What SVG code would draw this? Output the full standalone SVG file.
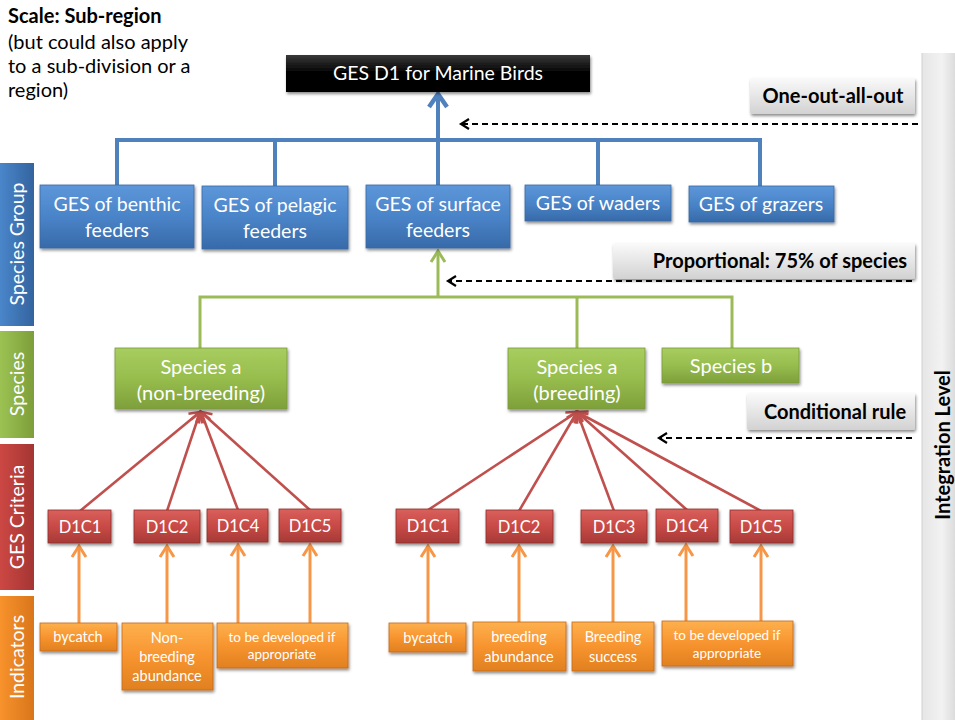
<svg xmlns="http://www.w3.org/2000/svg" width="955" height="720" viewBox="0 0 955 720">
  <defs>
    <style>
      .t { font-family: Lato, "Open Sans", "Liberation Sans", sans-serif; fill: #ffffff; text-anchor: middle; }
      .big { font-size: 19.5px; }
      .grn { font-size: 20px; }
      .mid { font-size: 16.5px; }
      .sm { font-size: 14.5px; }
      .lab { font-family: Lato, "Open Sans", "Liberation Sans", sans-serif; font-size: 20px; font-weight: bold; fill: #000000; text-anchor: middle; }
      .note { font-family: Lato, "Open Sans", "Liberation Sans", sans-serif; font-size: 20px; fill: #000000; }
      .side { font-family: Lato, "Open Sans", "Liberation Sans", sans-serif; font-size: 19.5px; fill: #ffffff; text-anchor: middle; }
      .blue { fill: url(#gBlue); stroke: #3a6aa4; stroke-width: 0.8; filter: url(#sh); }
      .green { fill: url(#gGreen); stroke: #7a9a3c; stroke-width: 0.8; filter: url(#sh); }
      .red { fill: url(#gRed); stroke: #8e2f2c; stroke-width: 0.8; filter: url(#sh); }
      .orange { fill: url(#gOrange); stroke: #c56a1c; stroke-width: 0.8; filter: url(#sh); }
      .grey { fill: url(#gGrey); filter: url(#sh); }
      .cb { stroke: #4f81bd; stroke-width: 4; fill: none; }
      .cg { stroke: #9bbb59; stroke-width: 3; fill: none; }
      .cr { stroke: #c0504d; stroke-width: 2.6; fill: none; }
      .co { stroke: #f79646; stroke-width: 3; fill: none; }
      .cd { stroke: #000000; stroke-width: 2; stroke-dasharray: 6 4; fill: none; }
    </style>
    <filter id="sh" x="-10%" y="-20%" width="120%" height="150%">
      <feDropShadow dx="1" dy="2" stdDeviation="1.5" flood-color="#000000" flood-opacity="0.45"/>
    </filter>
    <linearGradient id="gBlue" x1="0" y1="0" x2="0" y2="1">
      <stop offset="0" stop-color="#5d97da"/>
      <stop offset="0.5" stop-color="#4a84c8"/>
      <stop offset="1" stop-color="#376aa9"/>
    </linearGradient>
    <linearGradient id="gGreen" x1="0" y1="0" x2="0" y2="1">
      <stop offset="0" stop-color="#a8cd5f"/>
      <stop offset="0.5" stop-color="#97bd4e"/>
      <stop offset="1" stop-color="#7e9f3a"/>
    </linearGradient>
    <linearGradient id="gRed" x1="0" y1="0" x2="0" y2="1">
      <stop offset="0" stop-color="#d9605c"/>
      <stop offset="0.5" stop-color="#c84a46"/>
      <stop offset="1" stop-color="#a63a37"/>
    </linearGradient>
    <linearGradient id="gOrange" x1="0" y1="0" x2="0" y2="1">
      <stop offset="0" stop-color="#fdb04e"/>
      <stop offset="0.5" stop-color="#f7942f"/>
      <stop offset="1" stop-color="#e0801f"/>
    </linearGradient>
    <linearGradient id="gBlack" x1="0" y1="0" x2="0" y2="1">
      <stop offset="0" stop-color="#3a3a3a"/>
      <stop offset="0.45" stop-color="#050505"/>
      <stop offset="1" stop-color="#000000"/>
    </linearGradient>
    <linearGradient id="gGrey" x1="0" y1="0" x2="0" y2="1">
      <stop offset="0" stop-color="#fafafa"/>
      <stop offset="1" stop-color="#d2d2d2"/>
    </linearGradient>
    <linearGradient id="gBar" x1="0" y1="0" x2="1" y2="0">
      <stop offset="0" stop-color="#e6e6e6"/>
      <stop offset="0.6" stop-color="#f2f2f2"/>
      <stop offset="1" stop-color="#dcdcdc"/>
    </linearGradient>
    <linearGradient id="sBlue" x1="0" y1="0" x2="1" y2="0">
      <stop offset="0" stop-color="#4a86ca"/>
      <stop offset="1" stop-color="#33649f"/>
    </linearGradient>
    <linearGradient id="sGreen" x1="0" y1="0" x2="1" y2="0">
      <stop offset="0" stop-color="#9cc253"/>
      <stop offset="1" stop-color="#7d9e3a"/>
    </linearGradient>
    <linearGradient id="sRed" x1="0" y1="0" x2="1" y2="0">
      <stop offset="0" stop-color="#cc4844"/>
      <stop offset="1" stop-color="#a43532"/>
    </linearGradient>
    <linearGradient id="sOrange" x1="0" y1="0" x2="1" y2="0">
      <stop offset="0" stop-color="#f7922c"/>
      <stop offset="1" stop-color="#d9761a"/>
    </linearGradient>
    <marker id="aBlue" markerUnits="userSpaceOnUse" viewBox="-20 -14 26 28" markerWidth="26" markerHeight="28" refX="0" refY="0" orient="auto">
      <path d="M-13,-9 L0,0 L-13,9" fill="none" stroke="#4f81bd" stroke-width="4.5" stroke-linejoin="miter"/>
    </marker>
    <marker id="aGreen" markerUnits="userSpaceOnUse" viewBox="-16 -12 22 24" markerWidth="22" markerHeight="24" refX="0" refY="0" orient="auto">
      <path d="M-11,-7 L0,0 L-11,7" fill="none" stroke="#9bbb59" stroke-width="3"/>
    </marker>
    <marker id="aRed" markerUnits="userSpaceOnUse" viewBox="-16 -12 22 24" markerWidth="22" markerHeight="24" refX="0" refY="0" orient="auto">
      <path d="M-10,-6 L0,0 L-10,6" fill="none" stroke="#c0504d" stroke-width="2.6"/>
    </marker>
    <marker id="aOrange" markerUnits="userSpaceOnUse" viewBox="-16 -12 22 24" markerWidth="22" markerHeight="24" refX="0" refY="0" orient="auto">
      <path d="M-11,-7 L0,0 L-11,7" fill="none" stroke="#f79646" stroke-width="3"/>
    </marker>
    <marker id="aDash" markerUnits="userSpaceOnUse" viewBox="-14 -10 18 20" markerWidth="18" markerHeight="20" refX="0" refY="0" orient="auto">
      <path d="M-8,-5 L0,0 L-8,5" fill="none" stroke="#000000" stroke-width="2.2"/>
    </marker>
  </defs>

  <rect width="955" height="720" fill="#ffffff"/>

  <!-- scale note -->
  <g id="scale-note">
    <text class="note" x="8" y="23" font-weight="bold">Scale: Sub-region</text>
    <text class="note" x="8" y="49">(but could also apply</text>
    <text class="note" x="8" y="73">to a sub-division or a</text>
    <text class="note" x="8" y="97">region)</text>
  </g>

  <!-- level bands on the left -->
  <g id="band-species-group">
    <rect x="0" y="163" width="34" height="163" fill="url(#sBlue)"/>
    <text class="side" transform="translate(24,244) rotate(-90)">Species Group</text>
  </g>
  <g id="band-species">
    <rect x="0" y="331" width="34" height="107" fill="url(#sGreen)"/>
    <text class="side" transform="translate(24,384) rotate(-90)">Species</text>
  </g>
  <g id="band-criteria">
    <rect x="0" y="444" width="34" height="146" fill="url(#sRed)"/>
    <text class="side" transform="translate(24,517) rotate(-90)">GES Criteria</text>
  </g>
  <g id="band-indicators">
    <rect x="0" y="596" width="34" height="124" fill="url(#sOrange)"/>
    <text class="side" transform="translate(24,657) rotate(-90)">Indicators</text>
  </g>

  <!-- integration level bar -->
  <g id="integration-level">
    <rect x="922" y="53" width="33" height="667" fill="url(#gBar)"/>
    <line x1="922" y1="53" x2="922" y2="720" stroke="#d0d0d0" stroke-width="1"/>
    <text class="lab" transform="translate(950,445) rotate(-90)">Integration Level</text>
  </g>

  <!-- connectors -->
  <g id="connectors">
    <!-- species groups to D1 -->
    <path class="cb" d="M117,186 V140 H760 V186 M275,140 V186 M598,140 V186"/>
    <line class="cb" x1="438" y1="186" x2="438" y2="94" marker-end="url(#aBlue)"/>
    <!-- species to surface feeders -->
    <path class="cg" d="M200,349 V297 H732 V349 M577,297 V349"/>
    <line class="cg" x1="438" y1="297" x2="438" y2="251" marker-end="url(#aGreen)"/>
    <!-- criteria to species a (non-breeding) -->
    <line class="cr" x1="80" y1="511" x2="200" y2="412" marker-end="url(#aRed)"/>
    <line class="cr" x1="167" y1="511" x2="200" y2="412" marker-end="url(#aRed)"/>
    <line class="cr" x1="238" y1="510" x2="201" y2="412" marker-end="url(#aRed)"/>
    <line class="cr" x1="310" y1="510" x2="201" y2="412" marker-end="url(#aRed)"/>
    <!-- criteria to species a (breeding) -->
    <line class="cr" x1="428" y1="510" x2="577" y2="412" marker-end="url(#aRed)"/>
    <line class="cr" x1="519" y1="511" x2="577" y2="412" marker-end="url(#aRed)"/>
    <line class="cr" x1="614" y1="511" x2="577" y2="412" marker-end="url(#aRed)"/>
    <line class="cr" x1="687" y1="510" x2="577" y2="412" marker-end="url(#aRed)"/>
    <line class="cr" x1="761" y1="511" x2="577" y2="412" marker-end="url(#aRed)"/>
    <!-- indicators to criteria -->
    <line class="co" x1="79" y1="623" x2="79" y2="546" marker-end="url(#aOrange)"/>
    <line class="co" x1="167" y1="623" x2="167" y2="546" marker-end="url(#aOrange)"/>
    <line class="co" x1="238" y1="623" x2="238" y2="545" marker-end="url(#aOrange)"/>
    <line class="co" x1="310" y1="623" x2="310" y2="545" marker-end="url(#aOrange)"/>
    <line class="co" x1="428" y1="623" x2="428" y2="546" marker-end="url(#aOrange)"/>
    <line class="co" x1="519" y1="622" x2="519" y2="546" marker-end="url(#aOrange)"/>
    <line class="co" x1="613" y1="622" x2="613" y2="546" marker-end="url(#aOrange)"/>
    <line class="co" x1="686" y1="621" x2="686" y2="545" marker-end="url(#aOrange)"/>
    <line class="co" x1="761" y1="621" x2="761" y2="546" marker-end="url(#aOrange)"/>
    <!-- rule pointers -->
    <line class="cd" x1="918" y1="124" x2="461" y2="124" marker-end="url(#aDash)"/>
    <line class="cd" x1="912" y1="281" x2="448" y2="281" marker-end="url(#aDash)"/>
    <line class="cd" x1="912" y1="438" x2="659" y2="438" marker-end="url(#aDash)"/>
  </g>

  <!-- rule labels -->
  <g id="rule-one-out">
    <rect class="grey" x="750" y="78" width="165" height="36" rx="2"/>
    <text class="lab" x="833" y="103">One-out-all-out</text>
  </g>
  <g id="rule-proportional">
    <rect class="grey" x="613" y="243" width="302" height="36" rx="2"/>
    <text class="lab" x="780" y="268">Proportional: 75% of species</text>
  </g>
  <g id="rule-conditional">
    <rect class="grey" x="747" y="393" width="168" height="37" rx="2"/>
    <text class="lab" x="835" y="419">Conditional rule</text>
  </g>

  <!-- top node -->
  <g id="ges-d1">
    <rect x="286" y="55" width="304" height="37" fill="url(#gBlack)" filter="url(#sh)"/>
    <text class="t big" x="438" y="80">GES D1 for Marine Birds</text>
  </g>

  <!-- species groups -->
  <g id="grp-benthic">
    <rect class="blue" x="40" y="185" width="154" height="63"/>
    <text class="t big" x="117" y="211">GES of benthic</text>
    <text class="t big" x="117" y="237">feeders</text>
  </g>
  <g id="grp-pelagic">
    <rect class="blue" x="202" y="186" width="146" height="63"/>
    <text class="t big" x="275" y="212">GES of pelagic</text>
    <text class="t big" x="275" y="238">feeders</text>
  </g>
  <g id="grp-surface">
    <rect class="blue" x="366" y="185" width="144" height="63"/>
    <text class="t big" x="438" y="211">GES of surface</text>
    <text class="t big" x="438" y="237">feeders</text>
  </g>
  <g id="grp-waders">
    <rect class="blue" x="525" y="185" width="146" height="36"/>
    <text class="t big" x="598" y="210">GES of waders</text>
  </g>
  <g id="grp-grazers">
    <rect class="blue" x="689" y="186" width="145" height="36"/>
    <text class="t big" x="761" y="211">GES of grazers</text>
  </g>

  <!-- species -->
  <g id="sp-a-nonbreeding">
    <rect class="green" x="115" y="348" width="172" height="61"/>
    <text class="t grn" x="201" y="374">Species a</text>
    <text class="t grn" x="201" y="400">(non-breeding)</text>
  </g>
  <g id="sp-a-breeding">
    <rect class="green" x="508" y="348" width="137" height="61"/>
    <text class="t grn" x="577" y="374">Species a</text>
    <text class="t grn" x="577" y="400">(breeding)</text>
  </g>
  <g id="sp-b">
    <rect class="green" x="662" y="348" width="137" height="35"/>
    <text class="t grn" x="731" y="373">Species b</text>
  </g>

  <!-- criteria, non-breeding -->
  <g id="nb-d1c1">
    <rect class="red" x="48" y="510" width="63" height="33"/>
    <text class="t mid" x="80" y="533">D1C1</text>
  </g>
  <g id="nb-d1c2">
    <rect class="red" x="134" y="510" width="66" height="33"/>
    <text class="t mid" x="167" y="533">D1C2</text>
  </g>
  <g id="nb-d1c4">
    <rect class="red" x="207" y="509" width="61" height="33"/>
    <text class="t mid" x="238" y="532">D1C4</text>
  </g>
  <g id="nb-d1c5">
    <rect class="red" x="279" y="509" width="62" height="33"/>
    <text class="t mid" x="310" y="532">D1C5</text>
  </g>

  <!-- criteria, breeding -->
  <g id="br-d1c1">
    <rect class="red" x="396" y="509" width="63" height="34"/>
    <text class="t mid" x="428" y="532">D1C1</text>
  </g>
  <g id="br-d1c2">
    <rect class="red" x="486" y="510" width="67" height="33"/>
    <text class="t mid" x="519" y="533">D1C2</text>
  </g>
  <g id="br-d1c3">
    <rect class="red" x="581" y="510" width="66" height="33"/>
    <text class="t mid" x="614" y="533">D1C3</text>
  </g>
  <g id="br-d1c4">
    <rect class="red" x="656" y="509" width="62" height="33"/>
    <text class="t mid" x="687" y="532">D1C4</text>
  </g>
  <g id="br-d1c5">
    <rect class="red" x="730" y="510" width="63" height="33"/>
    <text class="t mid" x="761" y="533">D1C5</text>
  </g>

  <!-- indicators, non-breeding -->
  <g id="nb-bycatch">
    <rect class="orange" x="40" y="623" width="77" height="28"/>
    <text class="t sm" x="78" y="642">bycatch</text>
  </g>
  <g id="nb-abundance">
    <rect class="orange" x="122" y="623" width="91" height="67"/>
    <text class="t sm" x="167" y="643">Non-</text>
    <text class="t sm" x="167" y="662">breeding</text>
    <text class="t sm" x="167" y="681">abundance</text>
  </g>
  <g id="nb-tbd">
    <rect class="orange" x="217" y="623" width="131" height="45"/>
    <text class="t" x="282" y="642" font-size="13.5">to be developed if</text>
    <text class="t" x="282" y="659" font-size="13.5">appropriate</text>
  </g>

  <!-- indicators, breeding -->
  <g id="br-bycatch">
    <rect class="orange" x="389" y="623" width="77" height="29"/>
    <text class="t sm" x="428" y="643">bycatch</text>
  </g>
  <g id="br-abundance">
    <rect class="orange" x="473" y="622" width="93" height="49"/>
    <text class="t sm" x="519" y="642">breeding</text>
    <text class="t sm" x="519" y="662">abundance</text>
  </g>
  <g id="br-success">
    <rect class="orange" x="572" y="622" width="82" height="49"/>
    <text class="t sm" x="613" y="642">Breeding</text>
    <text class="t sm" x="613" y="662">success</text>
  </g>
  <g id="br-tbd">
    <rect class="orange" x="662" y="621" width="131" height="45"/>
    <text class="t" x="727" y="640" font-size="13.5">to be developed if</text>
    <text class="t" x="727" y="658" font-size="13.5">appropriate</text>
  </g>
</svg>
